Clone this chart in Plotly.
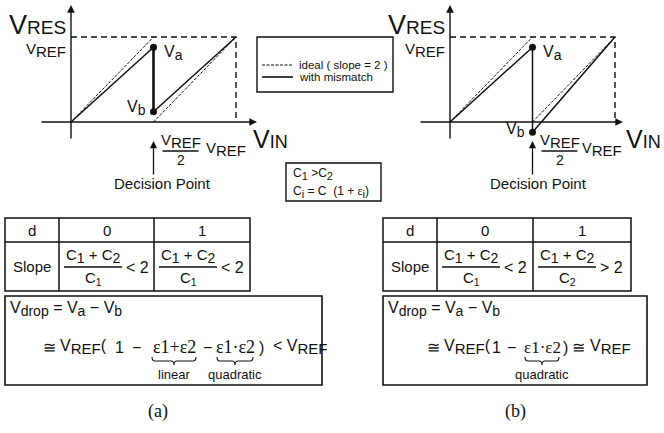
import plotly.graph_objects as go

W, H = 664, 433
SANS = "Liberation Sans, Arial, Helvetica, sans-serif"
SERIF = "Liberation Serif, Times New Roman, serif"
INK = "#111111"

# Residue transfer curves, normalised to V_REF = 1
decision = 0.5
v_ref = 1.0
panel_tags = ["(a)", "(b)"]
va_level = [0.88, 0.88]
vb_level = [0.12, -0.12]
ideal_vin = [0.0, 0.5, None, 0.5, 1.0]
ideal_vres = [0.0, 1.0, None, 0.0, 1.0]

# Slope table contents
d_values = ["0", "1"]
slope_den = [["C<sub>1</sub>", "C<sub>1</sub>"], ["C<sub>1</sub>", "C<sub>2</sub>"]]
slope_rel = [["< 2", "< 2"], ["< 2", "> 2"]]
legend_labels = ["ideal ( slope = 2 )", "with mismatch"]
drop_terms = [["ε1+ε2", "ε1·ε2"], ["ε1·ε2"]]
drop_kinds = [["linear", "quadratic"], ["quadratic"]]

# panel geometry (pixels)
origin = [(71, 122), (450, 122)]
SX, SY = 165.0, 85.0
x_axis_px = [(40, 257), (419, 623)]
y_axis_px = (140, 5)
panel_span = [(0, 332), (332, 664)]
decision_text_x = [162, 538]

fig = go.Figure()
ann = []
shapes = []


def sb(s, size):
    return f"<sub><span style='font-size:{size}px'>{s}</span></sub>"


def txt(x, y, s, size=14, xa="center", ya="middle", family=SANS, **kw):
    ann.append(dict(x=x, y=y, xref="x", yref="y", text=s, showarrow=False,
                    xanchor=xa, yanchor=ya, font=dict(family=family, size=size, color=INK), **kw))


def line(x0, y0, x1, y1, w=1.5, dash=None):
    shapes.append(dict(type="line", x0=x0, y0=y0, x1=x1, y1=y1, xref="x", yref="y",
                       line=dict(color=INK, width=w, dash=dash)))


def rect(x0, y0, x1, y1, w=1.5):
    shapes.append(dict(type="rect", x0=x0, y0=y0, x1=x1, y1=y1, xref="x", yref="y",
                       line=dict(color=INK, width=w)))


def brace(x0, x1, y0, h=8, r=3):
    m = (x0 + x1) / 2
    yc = y0 + h / 2
    p = (f"M {x0},{y0} Q {x0},{yc} {x0 + r},{yc} L {m - r},{yc} Q {m},{yc} {m},{y0 + h} "
         f"Q {m},{yc} {m + r},{yc} L {x1 - r},{yc} Q {x1},{yc} {x1},{y0}")
    shapes.append(dict(type="path", path=p, xref="x", yref="y", line=dict(color=INK, width=1.1)))


layout_axes = {}
for k in range(2):
    ox, oy = origin[k]
    xa, ya = ("x2", "y2") if k == 0 else ("x3", "y3")
    xn, yn = ("xaxis2", "yaxis2") if k == 0 else ("xaxis3", "yaxis3")
    p0, p1 = panel_span[k]
    layout_axes[xn] = dict(domain=[p0 / W, p1 / W], range=[(p0 - ox) / SX, (p1 - ox) / SX],
                           visible=False, anchor=ya, fixedrange=True)
    layout_axes[yn] = dict(domain=[0, 1], range=[(oy - H) / SY, oy / SY],
                           visible=False, anchor=xa, fixedrange=True)
    va, vb = va_level[k], vb_level[k]

    # reference box at V_REF
    fig.add_trace(go.Scatter(x=[0, v_ref, v_ref], y=[v_ref, v_ref, 0], xaxis=xa, yaxis=ya,
                             mode="lines", line=dict(color=INK, width=1.4, dash="6px,4px"),
                             hoverinfo="skip", showlegend=False))
    # ideal residue (slope = 2)
    fig.add_trace(go.Scatter(x=ideal_vin, y=ideal_vres, xaxis=xa, yaxis=ya, mode="lines",
                             line=dict(color=INK, width=1, dash="3px,1.5px"),
                             hoverinfo="skip", showlegend=False))
    # residue with capacitor mismatch
    fig.add_trace(go.Scatter(x=[0, decision, None, decision, v_ref], y=[0, va, None, vb, v_ref],
                             xaxis=xa, yaxis=ya, mode="lines", line=dict(color=INK, width=1.5),
                             hoverinfo="skip", showlegend=False))
    fig.add_trace(go.Scatter(x=[decision, decision], y=[va, vb], xaxis=xa, yaxis=ya, mode="lines",
                             line=dict(color=INK, width=2.6 if k == 0 else 1.5),
                             hoverinfo="skip", showlegend=False))
    fig.add_trace(go.Scatter(x=[decision, decision], y=[va, vb], xaxis=xa, yaxis=ya, mode="markers",
                             marker=dict(color=INK, size=7), hoverinfo="skip", showlegend=False))

    # axes with arrow heads
    xs, xe = x_axis_px[k]
    ann.append(dict(x=(xe - ox) / SX, y=0, ax=(xs - ox) / SX, ay=0, xref=xa, yref=ya, axref=xa,
                    ayref=ya, text="", showarrow=True, arrowhead=2, arrowsize=1.1,
                    arrowwidth=1.4, arrowcolor=INK, standoff=0))
    ann.append(dict(x=0, y=(oy - y_axis_px[1]) / SY, ax=0, ay=(oy - y_axis_px[0]) / SY, xref=xa,
                    yref=ya, axref=xa, ayref=ya, text="", showarrow=True, arrowhead=2,
                    arrowsize=1.1, arrowwidth=1.4, arrowcolor=INK, standoff=0))
    # decision point arrow
    ann.append(dict(x=decision, y=(oy - 141) / SY, ax=decision, ay=(oy - 176) / SY, xref=xa,
                    yref=ya, axref=xa, ayref=ya, text="", showarrow=True, arrowhead=2,
                    arrowsize=1.1, arrowwidth=1.3, arrowcolor=INK, standoff=0))

    # point labels
    ann.append(dict(x=decision, y=va, xref=xa, yref=ya, text="V" + sb("a", 14), showarrow=False,
                    xanchor="left", yanchor="middle", xshift=8, yshift=-6,
                    font=dict(family=SANS, size=16, color=INK)))
    ann.append(dict(x=decision, y=vb, xref=xa, yref=ya, text="V" + sb("b", 14), showarrow=False,
                    xanchor="right", yanchor="middle", xshift=-6, yshift=4 if k == 0 else 2,
                    font=dict(family=SANS, size=16, color=INK)))

    xd = ox + decision * SX
    xr = ox + v_ref * SX
    # axis titles
    txt(ox - 3, 25, "V<span style='font-size:19px'>RES</span>", 27, xa="right")
    txt(ox - 3, 50, "V" + sb("REF", 15), 15, xa="right")
    txt(xd + 27, 141, "V" + sb("REF", 15), 15)
    line(xd + 9, 151, xd + 45, 151, w=1.3)
    txt(xd + 27, 160, "2", 14)
    txt(xr - 32 if k == 0 else xr - 35, 149, "V" + sb("REF", 15), 15 if k == 0 else 14.5,
        xa="left")
    txt(xe - 6 if k == 0 else xe + 1, 139, "V<span style='font-size:18px'>IN</span>", 25,
        xa="left")
    txt(decision_text_x[k], 183, "Decision Point", 15)

# legend box
rect(257, 37, 393, 92, w=1.4)
line(262, 65, 293, 65, w=1.2, dash="3px,1.5px")
line(262, 77, 293, 77, w=1.6)
txt(297, 65, legend_labels[0], 11.5, xa="left")
txt(297, 77, legend_labels[1], 11.5, xa="left")

# capacitor relations
rect(286, 163, 381, 201, w=1.4)
txt(291, 174, "C" + sb("1", 11) + " >C" + sb("2", 11), 12, xa="left")
txt(291, 192, "C" + sb("i", 11) + " = C  (1 + " + "<span style='font-family:Liberation Serif'>ε</span>"
    + sb("i", 11) + ")", 12, xa="left")

# slope tables and voltage-drop boxes
tab_cols = [[5, 59, 154, 250], [383, 437, 533, 631]]
box_x = [(5, 322), (383, 647)]
ROW = (218, 242, 291)
BOX = (296, 385)
for k in range(2):
    c = tab_cols[k]
    rect(c[0], ROW[0], c[3], ROW[2])
    line(c[0], ROW[1], c[3], ROW[1])
    line(c[1], ROW[0], c[1], ROW[2])
    line(c[2], ROW[0], c[2], ROW[2])
    txt((c[0] + c[1]) / 2, 230, "d", 15)
    txt((c[0] + c[1]) / 2, 266, "Slope", 15)
    for j in range(2):
        l, r = c[j + 1], c[j + 2]
        txt((l + r) / 2, 230, d_values[j], 15)
        fc = l + 34
        txt(fc, 256, "C" + sb("1", 14) + " + C" + sb("2", 14), 15)
        line(fc - 29, 267, fc + 29, 267, w=1.3)
        txt(fc, 278, slope_den[k][j], 15)
        txt(l + 65, 267, slope_rel[k][j], 16, xa="left")

    bx0, bx1 = box_x[k]
    rect(bx0, BOX[0], bx1, BOX[1], w=1.6)
    txt(bx0 + 3, 309, "V" + sb("drop", 14) + " = V" + sb("a", 14) + " − V" + sb("b", 14), 16,
        xa="left")

# (a): linear and quadratic terms
y2l = 347
txt(49, y2l, "≅", 16)
txt(58, y2l, "V" + sb("REF", 15) + "(", 16, xa="left")
txt(119, y2l, "1", 16)
txt(136, y2l, "−", 16)
txt(174, y2l, drop_terms[0][0], 18, family=SERIF)
txt(207, y2l, "−", 16)
txt(235, y2l, drop_terms[0][1], 18, family=SERIF)
txt(261, y2l, ")", 16)
txt(271, y2l, "< V" + sb("REF", 15), 16, xa="left")
brace(152, 196, 357)
brace(217, 253, 357)
txt(174, 374, drop_kinds[0][0], 13)
txt(235, 374, drop_kinds[0][1], 13)

# (b): only the quadratic term remains
txt(433, y2l, "≅", 16)
txt(442, y2l, "V" + sb("REF", 15) + "(", 16, xa="left")
txt(496, y2l, "1", 16)
txt(511, y2l, "−", 16)
txt(542, y2l, drop_terms[1][0], 17, family=SERIF)
txt(565, y2l, ")", 16)
txt(578, y2l, "≅", 16)
txt(588, y2l, "V" + sb("REF", 15), 16, xa="left")
brace(525, 559, 357)
txt(542, 374, drop_kinds[1][0], 13)

txt(158, 411, panel_tags[0], 18, family=SERIF)
txt(515, 411, panel_tags[1], 18, family=SERIF)

fig.update_layout(
    width=W, height=H, margin=dict(l=0, r=0, t=0, b=0),
    paper_bgcolor="white", plot_bgcolor="rgba(0,0,0,0)",
    xaxis=dict(domain=[0, 1], range=[0, W], visible=False, fixedrange=True),
    yaxis=dict(domain=[0, 1], range=[H, 0], visible=False, fixedrange=True),
    annotations=ann, shapes=shapes, showlegend=False, **layout_axes,
)
fig.write_html("out.html")
